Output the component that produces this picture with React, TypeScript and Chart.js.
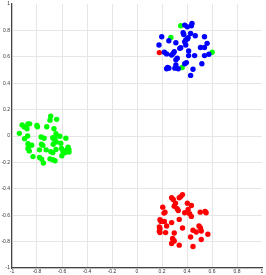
import React, { useEffect, useRef } from "react";
import { Chart, registerables } from "chart.js";

Chart.register(...registerables);

const tickValues: number[] = [-1, -0.8, -0.6, -0.4, -0.2, 0, 0.2, 0.4, 0.6, 0.8, 1];

const greenX: number[] = [
  -0.941, -0.919, -0.901, -0.88, -0.872, -0.859, -0.899, -0.875, -0.872, -0.867,
  -0.842, -0.872, -0.862, -0.832, -0.801, -0.796, -0.78, -0.764, -0.753, -0.779,
  -0.763, -0.749, -0.722, -0.69, -0.696, -0.643, -0.664, -0.648, -0.674, -0.656,
  -0.664, -0.617, -0.67, -0.646, -0.727, -0.69, -0.674, -0.696, -0.674, -0.656,
  -0.648, -0.609, -0.603, -0.593, -0.564, -0.577, -0.601, -0.551, -0.545, -0.544,
  -0.569, -0.767, -0.743,
  0.35, 0.271, 0.601, 0.361,
];
const greenY: number[] = [
  0.02, 0.083, 0.068, 0.055, 0.092, 0.092, -0.02, 0.0, -0.058, -0.07,
  -0.07, -0.095, -0.113, -0.156, 0.08, 0.07, -0.105, -0.062, -0.071, -0.163,
  -0.175, -0.205, 0.07, 0.15, 0.12, 0.126, 0.055, 0.017, -0.013, -0.017,
  -0.023, -0.002, -0.062, -0.045, -0.105, -0.118, -0.126, -0.173, -0.18, -0.188,
  -0.102, -0.055, -0.095, -0.113, -0.108, -0.126, -0.15, -0.085, -0.104, -0.122,
  -0.017, -0.008, -0.017,
  0.835, 0.747, 0.634, 0.519,
];

const blueX: number[] = [
  0.382, 0.403, 0.44, 0.435, 0.369, 0.374, 0.429, 0.466, 0.409, 0.403,
  0.39, 0.382, 0.198, 0.255, 0.54, 0.311, 0.176, 0.39, 0.561, 0.508,
  0.54, 0.35, 0.342, 0.298, 0.29, 0.219, 0.237, 0.277, 0.413, 0.413,
  0.461, 0.54, 0.575, 0.322, 0.311, 0.395, 0.382, 0.519, 0.311, 0.245,
  0.255, 0.237, 0.303, 0.33, 0.448, 0.429,
];
const blueY: number[] = [
  0.84, 0.827, 0.852, 0.835, 0.782, 0.769, 0.777, 0.759, 0.744, 0.735,
  0.727, 0.714, 0.752, 0.722, 0.752, 0.707, 0.689, 0.689, 0.702, 0.671,
  0.671, 0.669, 0.664, 0.639, 0.626, 0.634, 0.622, 0.614, 0.644, 0.609,
  0.609, 0.609, 0.619, 0.589, 0.577, 0.556, 0.547, 0.547, 0.539, 0.519,
  0.514, 0.509, 0.514, 0.509, 0.506, 0.459,
];

const redX: number[] = [
  0.364, 0.35, 0.338, 0.277, 0.29, 0.308, 0.298, 0.403, 0.435, 0.206,
  0.322, 0.33, 0.409, 0.224, 0.216, 0.382, 0.421, 0.506, 0.545, 0.553,
  0.435, 0.338, 0.184, 0.192, 0.219, 0.277, 0.364, 0.179, 0.184, 0.237,
  0.496, 0.508, 0.448, 0.474, 0.514, 0.179, 0.184, 0.229, 0.298, 0.567,
  0.429, 0.285, 0.29, 0.298, 0.514, 0.277, 0.338, 0.448,
  0.179,
];
const redY: number[] = [
  -0.444, -0.459, -0.468, -0.468, -0.481, -0.509, -0.532, -0.509, -0.526, -0.539,
  -0.551, -0.564, -0.556, -0.577, -0.584, -0.581, -0.589, -0.577, -0.571, -0.581,
  -0.609, -0.632, -0.634, -0.647, -0.647, -0.656, -0.697, -0.689, -0.702, -0.682,
  -0.682, -0.697, -0.714, -0.727, -0.72, -0.722, -0.732, -0.732, -0.735, -0.744,
  -0.765, -0.777, -0.789, -0.795, -0.784, -0.814, -0.827, -0.837,
  0.632,
];

const toPoints = (xs: number[], ys: number[]) => xs.map((x, i) => ({ x, y: ys[i] }));

export default function App() {
  const ref = useRef<HTMLCanvasElement | null>(null);

  useEffect(() => {
    if (!ref.current) return;
    const fmt = (v: any) => {
      const n = Math.round(Number(v) * 10) / 10;
      return tickValues.some((t) => Math.abs(t - n) < 1e-9) ? String(n) : "";
    };
    const gridColor = (ctx: any) =>
      ctx.tick && Math.abs(ctx.tick.value - 1) < 1e-9 ? "rgba(0,0,0,0)" : "#e6e6e6";
    const tickFont = { family: "'Liberation Sans', Arial, sans-serif", size: 5 };
    const chart = new Chart(ref.current, {
      type: "scatter",
      data: {
        datasets: [
          { data: toPoints(blueX, blueY), backgroundColor: "#0000ff", borderWidth: 0, pointRadius: 2.7 },
          { data: toPoints(greenX, greenY), backgroundColor: "#00ff00", borderWidth: 0, pointRadius: 2.7 },
          { data: toPoints(redX, redY), backgroundColor: "#ff0000", borderWidth: 0, pointRadius: 2.7 },
        ],
      },
      options: {
        animation: false,
        responsive: false,
        devicePixelRatio: 1,
        layout: { padding: { top: 2, right: 1, left: 0, bottom: 0 } },
        plugins: { legend: { display: false }, tooltip: { enabled: false } },
        scales: {
          x: {
            type: "linear",
            min: -1,
            max: 1,
            afterBuildTicks: (s: any) => {
              s.ticks = tickValues.map((v) => ({ value: v }));
            },
            afterFit: (s: any) => {
              s.height = 7;
              s.paddingLeft = 0;
              s.paddingRight = 0;
            },
            ticks: { autoSkip: false, maxRotation: 0, padding: 1, color: "#333", font: tickFont, callback: fmt },
            grid: { color: gridColor, lineWidth: 1, drawTicks: false },
            border: { color: "#444", width: 1.2 },
          },
          y: {
            type: "linear",
            min: -1,
            max: 1,
            afterBuildTicks: (s: any) => {
              s.ticks = tickValues.map((v) => ({ value: v }));
            },
            afterFit: (s: any) => {
              s.width = 12;
              s.paddingTop = 0;
              s.paddingBottom = 0;
            },
            ticks: { autoSkip: false, padding: 2, color: "#333", font: tickFont, callback: fmt },
            grid: { color: gridColor, lineWidth: 1, drawTicks: false },
            border: { color: "#444", width: 1.2 },
          },
        },
      },
    } as any);
    return () => chart.destroy();
  }, []);

  return (
    <div style={{ position: "fixed", left: 0, top: 0, width: 266, height: 275 }}>
      <canvas ref={ref} width={266} height={275} style={{ display: "block", width: 266, height: 275 }} />
    </div>
  );
}
